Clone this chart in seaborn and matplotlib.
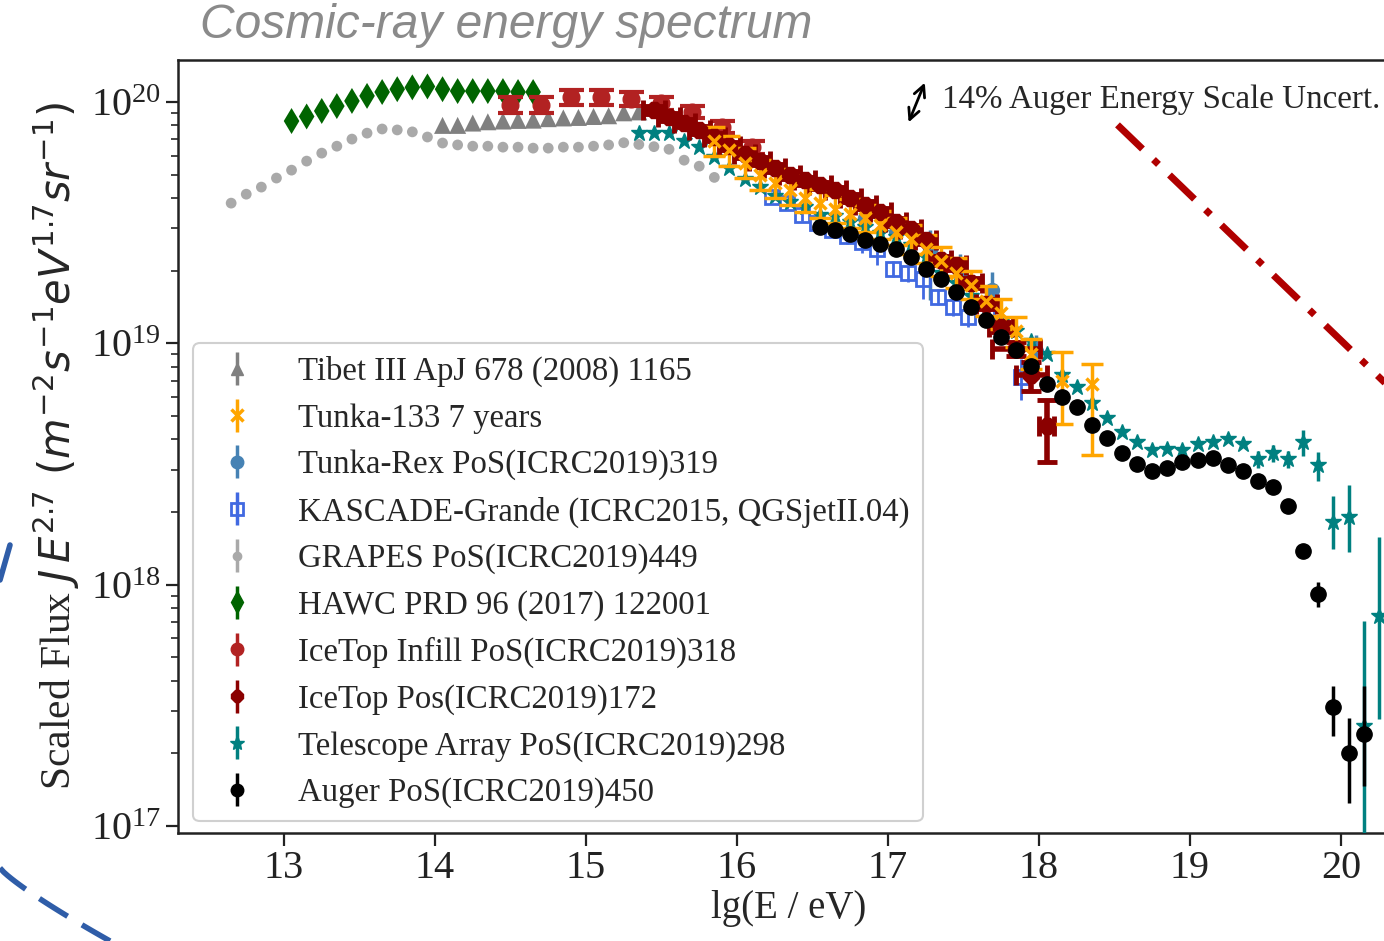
import numpy as np
import matplotlib
matplotlib.use("Agg")
import matplotlib.pyplot as plt
import seaborn as sns
from matplotlib.lines import Line2D

U = 1e19  # flux unit used in the arrays below

# ---------------- data (lg(E/eV), scaled flux in units of 1e19) ----------------
grapes_x = [12.65, 12.75, 12.85, 12.95, 13.05, 13.15, 13.25, 13.35, 13.45, 13.55, 13.65,
            13.75, 13.85, 13.95, 14.05, 14.15, 14.25, 14.35, 14.45, 14.55, 14.65, 14.75,
            14.85, 14.95, 15.05, 15.15, 15.25, 15.35, 15.45, 15.55, 15.65, 15.75, 15.85]
grapes_y = [3.81, 4.15, 4.44, 4.84, 5.22, 5.69, 6.14, 6.56, 7.02, 7.43, 7.73,
            7.66, 7.52, 7.16, 6.76, 6.64, 6.56, 6.56, 6.50, 6.50, 6.44, 6.44,
            6.50, 6.50, 6.56, 6.64, 6.78, 6.67, 6.53, 6.37, 5.74, 5.42, 4.87]

hawc_x = [13.05, 13.15, 13.25, 13.35, 13.45, 13.55, 13.65, 13.75, 13.85, 13.95, 14.05,
          14.15, 14.25, 14.35, 14.45, 14.55, 14.65]
hawc_y = [8.34, 8.71, 9.18, 9.62, 10.1, 10.6, 11.0, 11.3, 11.5, 11.6, 11.3,
          11.1, 11.1, 11.1, 11.1, 11.0, 11.0]

tibet_x = [14.05, 14.15, 14.25, 14.35, 14.45, 14.55, 14.65, 14.75, 14.85, 14.95, 15.05,
           15.15, 15.25, 15.35]
tibet_y = [8.0, 8.0, 8.18, 8.28, 8.34, 8.39, 8.41, 8.53, 8.59, 8.63, 8.71, 8.77, 9.02, 9.10]

infill_x = [14.5, 14.7, 14.9, 15.1, 15.3, 15.5, 15.7, 15.9, 16.1]
infill_y = [9.72, 9.72, 10.5, 10.5, 10.3, 9.9, 9.1, 7.9, 6.5]
infill_err = [0.72, 0.72, 0.75, 0.75, 0.7, 0.6, 0.5, 0.45, 0.4]

icetop_x = [15.45, 15.55, 15.65, 15.75, 15.85, 15.95, 16.05, 16.15, 16.25, 16.35, 16.45,
            16.55, 16.65, 16.75, 16.85, 16.95, 17.05, 17.15, 17.25, 17.35, 17.45, 17.55,
            17.65, 17.75, 17.85, 17.95, 18.05]
icetop_y = [9.27, 8.7, 8.17, 7.67, 7.16, 6.6, 6.1, 5.68, 5.31, 4.99, 4.73,
            4.51, 4.30, 4.0, 3.75, 3.5, 3.18, 2.99, 2.67, 2.21, 2.11, 1.78,
            1.46, 1.17, 0.95, 0.736, 0.453]
icetop_yerr = [0.35, 0.33, 0.31, 0.29, 0.27, 0.25, 0.23, 0.21, 0.2, 0.19, 0.18,
               0.17, 0.16, 0.15, 0.14, 0.13, 0.12, 0.11, 0.1, 0.09, 0.09, 0.08,
               0.07, 0.06, 0.06, 0.10, 0.13]
icetop_xerr = [0.07, 0.07, 0.07, 0.07, 0.07, 0.07, 0.07, 0.07, 0.07, 0.07, 0.07,
               0.07, 0.07, 0.07, 0.07, 0.07, 0.07, 0.07, 0.07, 0.07, 0.07, 0.07,
               0.07, 0.08, 0.16, 0.10, 0.05]

tunka133_x = [15.85, 15.95, 16.05, 16.15, 16.25, 16.35, 16.45, 16.55, 16.65, 16.75, 16.85,
              16.95, 17.05, 17.15, 17.25, 17.35, 17.45, 17.55, 17.65, 17.75, 17.85, 17.95,
              18.15, 18.35]
tunka133_y = [6.9, 6.3, 5.6, 5.0, 4.6, 4.3, 4.0, 3.8, 3.6, 3.45, 3.3,
              3.1, 2.9, 2.7, 2.45, 2.2, 1.95, 1.74, 1.5, 1.33, 1.12, 0.906,
              0.70, 0.676]
tunka133_lo = [0.9, 0.85, 0.75, 0.7, 0.6, 0.55, 0.5, 0.5, 0.45, 0.45, 0.4,
               0.4, 0.35, 0.35, 0.3, 0.3, 0.25, 0.22, 0.2, 0.18, 0.15, 0.12,
               0.235, 0.333]
tunka133_hi = [1.0, 0.95, 0.85, 0.75, 0.7, 0.65, 0.6, 0.55, 0.5, 0.5, 0.45,
               0.45, 0.4, 0.4, 0.35, 0.3, 0.3, 0.25, 0.22, 0.2, 0.17, 0.14,
               0.22, 0.148]

tunkarex_x = [16.85, 17.05, 17.28, 17.48, 17.69, 17.98]
tunkarex_y = [3.3, 2.9, 2.43, 1.95, 1.66, 0.93]
tunkarex_lo = [0.6, 0.6, 0.92, 0.45, 0.29, 0.12]
tunkarex_hi = [0.5, 0.5, 0.51, 0.4, 0.32, 0.15]

kascade_x = [16.23, 16.33, 16.43, 16.53, 16.63, 16.73, 16.83, 16.93, 17.03, 17.13, 17.23,
             17.33, 17.43, 17.53, 17.70, 17.88]
kascade_y = [4.05, 3.80, 3.40, 3.15, 2.95, 2.78, 2.62, 2.47, 2.04, 1.95, 1.85,
             1.56, 1.42, 1.29, 1.39, 0.725]
kascade_err = [0.2, 0.2, 0.2, 0.2, 0.2, 0.2, 0.25, 0.35, 0.15, 0.15, 0.32,
               0.12, 0.12, 0.12, 0.2, 0.14]

ta_x = [15.35, 15.45, 15.55, 15.65, 15.75, 15.85, 15.95, 16.05, 16.15, 16.25,
        16.35, 16.45, 16.55, 16.65, 16.75, 16.85, 16.95, 17.05, 17.15, 17.25,
        17.35, 17.45, 17.55, 17.65, 17.75, 17.85, 17.95, 18.05, 18.15, 18.25,
        18.35, 18.45, 18.55, 18.65, 18.75, 18.85, 18.95, 19.05, 19.15, 19.25,
        19.35, 19.45, 19.55, 19.65, 19.75, 19.85, 19.95, 20.05, 20.15, 20.25]
ta_y = [7.42, 7.46, 7.42, 6.89, 6.52, 5.90, 5.31, 4.79, 4.43, 4.07,
        3.86, 3.68, 3.40, 3.37, 3.19, 3.04, 2.87, 2.76, 2.55, 2.28,
        1.95, 1.77, 1.57, 1.37, 1.23, 1.13, 1.02, 0.900, 0.737, 0.659,
        0.565, 0.492, 0.429, 0.389, 0.362, 0.366, 0.362, 0.384, 0.389, 0.402,
        0.384, 0.332, 0.351, 0.332, 0.389, 0.312, 0.181, 0.191, 0.026, 0.0743]
ta_lo = [0, 0, 0, 0, 0, 0, 0, 0, 0, 0,
         0, 0, 0, 0, 0, 0, 0, 0, 0, 0,
         0, 0, 0, 0, 0, 0, 0, 0, 0, 0,
         0, 0, 0, 0, 0, 0, 0, 0, 0, 0,
         0, 0.027, 0.028, 0.027, 0.047, 0.044, 0.040, 0.055, 0.021, 0.0466]
ta_hi = [0, 0, 0, 0, 0, 0, 0, 0, 0, 0,
         0, 0, 0, 0, 0, 0, 0, 0, 0, 0,
         0, 0, 0, 0, 0, 0, 0, 0, 0, 0,
         0, 0, 0, 0, 0, 0, 0, 0, 0, 0,
         0, 0.027, 0.028, 0.027, 0.047, 0.044, 0.053, 0.067, 0.045, 0.083]

auger_x = [16.55, 16.65, 16.75, 16.85, 16.95, 17.05, 17.15, 17.25, 17.35, 17.45,
           17.55, 17.65, 17.75, 17.85, 17.95, 18.05, 18.15, 18.25, 18.35, 18.45,
           18.55, 18.65, 18.75, 18.85, 18.95, 19.05, 19.15, 19.25, 19.35, 19.45,
           19.55, 19.65, 19.75, 19.85, 19.95, 20.05, 20.15]
auger_y = [3.04, 2.94, 2.85, 2.69, 2.58, 2.46, 2.28, 2.04, 1.84, 1.63,
           1.42, 1.25, 1.06, 0.935, 0.803, 0.681, 0.599, 0.544, 0.460, 0.406,
           0.352, 0.317, 0.295, 0.305, 0.322, 0.329, 0.334, 0.314, 0.297, 0.270,
           0.253, 0.212, 0.1375, 0.0915, 0.0310, 0.0201, 0.0240]
auger_lo = [0] * 33 + [0.011, 0.0074, 0.00765, 0.0093]
auger_hi = [0] * 33 + [0.011, 0.0071, 0.0080, 0.0141]

# reference dash-dot line (two end points, lg E and flux / 1e19)
refline_x = [18.52, 20.40]
refline_y = [8.04, 0.59]

legend_labels = ["Tibet III ApJ 678 (2008) 1165",
                 "Tunka-133 7 years",
                 "Tunka-Rex PoS(ICRC2019)319",
                 "KASCADE-Grande (ICRC2015, QGSjetII.04)",
                 "GRAPES PoS(ICRC2019)449",
                 "HAWC PRD 96 (2017) 122001",
                 "IceTop Infill PoS(ICRC2019)318",
                 "IceTop Pos(ICRC2019)172",
                 "Telescope Array PoS(ICRC2019)298",
                 "Auger PoS(ICRC2019)450"]

# ---------------- style ----------------
sns.set_theme(style="ticks")
plt.rcParams['font.family'] = ['Liberation Serif', 'DejaVu Serif']
plt.rcParams['mathtext.fontset'] = 'stix'
plt.rcParams['axes.edgecolor'] = '#222222'

W, H = 1384, 941
fig = plt.figure(figsize=(W / 100, H / 100), dpi=100)
ax = fig.add_axes([178 / W, (H - 833) / H, (1400 - 178) / W, (833 - 60) / H])

def sc(v):
    return np.asarray(v, dtype=float) * U

C_TIBET, C_T133, C_TREX, C_KAS = '#808080', '#FFA500', '#4682B4', '#4169E1'
C_GRAPES, C_HAWC, C_INF, C_ICE = '#A9A9A9', '#006400', '#B22222', '#8B0000'
C_TA, C_AUG = '#008080', '#000000'

sns.scatterplot(x=grapes_x, y=sc(grapes_y), ax=ax, color=C_GRAPES, s=60,
                edgecolor='none', zorder=2)
sns.scatterplot(x=tibet_x, y=sc(tibet_y), ax=ax, color=C_TIBET, marker='^', s=150,
                edgecolor='none', zorder=2)
sns.scatterplot(x=hawc_x, y=sc(hawc_y), ax=ax, color=C_HAWC, marker='d', s=175,
                edgecolor='none', zorder=2)

ax.errorbar(kascade_x, sc(kascade_y), yerr=sc(kascade_err), fmt='s', color=C_KAS,
            mfc='none', mec=C_KAS, ms=10, mew=2, elinewidth=2, capsize=0, zorder=3)
ax.errorbar(tunkarex_x, sc(tunkarex_y), yerr=[sc(tunkarex_lo), sc(tunkarex_hi)], fmt='o',
            color=C_TREX, ms=10, elinewidth=2.5, capsize=0, zorder=3)
ax.errorbar(infill_x, sc(infill_y), yerr=sc(infill_err), fmt='o', color=C_INF, ms=12,
            elinewidth=2.5, capsize=9, capthick=3, zorder=3)
ax.errorbar(ta_x, sc(ta_y), yerr=[sc(ta_lo), sc(ta_hi)], fmt='*', color=C_TA, ms=12,
            elinewidth=2.5, capsize=0, zorder=4)
ax.errorbar(icetop_x, sc(icetop_y), yerr=sc(icetop_yerr), xerr=icetop_xerr, fmt='8',
            color=C_ICE, ms=13, elinewidth=4, capsize=7, capthick=3.5, zorder=5)
ax.errorbar(tunka133_x, sc(tunka133_y), yerr=[sc(tunka133_lo), sc(tunka133_hi)], fmt='x',
            color=C_T133, ms=9, mew=2.5, elinewidth=2.5, capsize=8, capthick=3, zorder=5)
ax.errorbar(auger_x, sc(auger_y), yerr=[sc(auger_lo), sc(auger_hi)], fmt='o', color=C_AUG,
            ms=11, elinewidth=2.5, capsize=0, zorder=6)

sns.lineplot(x=refline_x, y=sc(refline_y), ax=ax, color='#B00000', lw=5,
             linestyle=(0, (5, 2.2, 1, 2.2)), zorder=2)

ax.set_yscale('log')
ax.set_xlim(12.298, 20.391)
ax.set_ylim(9.35e16, 1.493e20)
ax.set_xticks([13, 14, 15, 16, 17, 18, 19, 20])
ax.tick_params(axis='both', which='major', labelsize=29, length=9, width=1.6,
               direction='out', colors='#222222')
ax.tick_params(axis='y', which='minor', length=5, width=1.2, direction='out')
for s in ax.spines.values():
    s.set_linewidth(1.8)
ax.set_xlabel('lg(E / eV)', fontsize=28, labelpad=2)
ax.set_ylabel(r'Scaled Flux $J\,E^{2.7}\ (m^{-2}s^{-1}eV^{1.7}sr^{-1})$', fontsize=30,
              math_fontfamily='dejavusans', labelpad=6)

# legend with vertical-errorbar handles
proxy_specs = [('^', C_TIBET, {}), ('x', C_T133, {'mew': 2.5}), ('o', C_TREX, {}),
               ('s', C_KAS, {'mfc': 'none', 'mew': 2}), ('o', C_GRAPES, {'ms': 6}),
               ('d', C_HAWC, {'ms': 11}), ('o', C_INF, {}), ('8', C_ICE, {}),
               ('*', C_TA, {'ms': 11}), ('o', C_AUG, {})]
handles = []
for (m, c, kw), lab in zip(proxy_specs, legend_labels):
    kw = dict(kw)
    ms = kw.pop('ms', 9)
    h = ax.errorbar([np.nan], [np.nan], yerr=[np.nan], fmt=m, color=c, ms=ms,
                    elinewidth=2.5, capsize=0, label=lab, **kw)
    handles.append(h)
leg = ax.legend(handles=handles, labels=legend_labels, loc='upper left',
                bbox_to_anchor=((193 - 178) / 1222, (833 - 343) / 773), borderaxespad=0,
                fontsize=23.6, labelspacing=0.485, handlelength=1.9, handletextpad=0.9,
                borderpad=0.4, frameon=True, fancybox=True, framealpha=1.0)
leg.get_frame().set_edgecolor('#d0d0d0')
leg.get_frame().set_linewidth(1.5)

# energy-scale uncertainty annotation
ax.annotate('', xy=(0.612, 0.974), xytext=(0.597, 0.916), xycoords='axes fraction',
            arrowprops=dict(arrowstyle='<->', lw=2.0, color='black', mutation_scale=20))
ax.text(0.625, 0.948, '14% Auger Energy Scale Uncert.', transform=ax.transAxes,
        fontsize=23.8, va='center', ha='left')

# title
fig.text(200 / W, 1 - 26 / H, 'Cosmic-ray energy spectrum', fontsize=34.5, style='italic',
         color='#8a8a8a', family=['Liberation Sans', 'DejaVu Sans'], va='center', ha='left')

# decorative dashed arcs from the slide background
t = np.linspace(0, 1, 30)
arc_x = (0 + 110 * t) / W
arc_y = 1 - (868 + 73 * t ** 0.85) / H
fig.add_artist(Line2D(arc_x, arc_y, transform=fig.transFigure, color='#2F5DA8', lw=4,
                      linestyle=(0, (6, 3))))
fig.add_artist(Line2D([0 / W, 10 / W], [1 - 580 / H, 1 - 545 / H], transform=fig.transFigure,
                      color='#2F5DA8', lw=4))

fig.savefig('out.png', dpi=100)
